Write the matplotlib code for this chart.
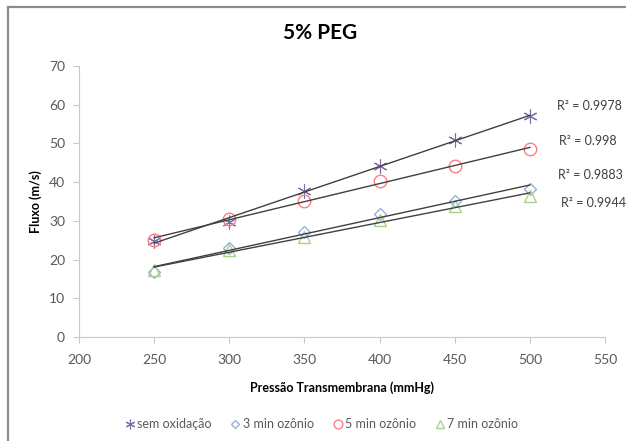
import numpy as np
import matplotlib.pyplot as plt
from matplotlib.lines import Line2D

plt.rcParams['font.family'] = ['Lato', 'DejaVu Sans']

# data
pressao = [250, 300, 350, 400, 450, 500]
sem_oxidacao = [24.8, 29.8, 37.8, 44.1, 50.9, 57.1]
min3 = [16.9, 23.0, 27.2, 31.8, 35.2, 38.2]
min5 = [25.1, 30.6, 35.1, 40.2, 44.2, 48.6]
min7 = [17.3, 22.4, 25.8, 30.2, 33.8, 36.4]

nomes = ['sem oxidação', '3 min ozônio', '5 min ozônio', '7 min ozônio']
r2 = ['0.9978', '0.998', '0.9883', '0.9944']
r2_y = [59.7, 50.6, 41.9, 34.6]
r2_x = [557, 559, 558, 561]

fig = plt.figure(figsize=(6.26, 4.41), dpi=100)
ax = fig.add_axes([0.1262, 0.2358, 0.8403, 0.6145])

# figure border (cut on right/bottom)
fig.add_artist(Line2D([8/626, 8/626], [0, 1 - 7/441], transform=fig.transFigure, color='#8c8c8c', lw=1.6))
fig.add_artist(Line2D([8/626, 1], [1 - 7/441, 1 - 7/441], transform=fig.transFigure, color='#8c8c8c', lw=1.6))

series = [sem_oxidacao, min3, min5, min7]
estilos = [
    dict(marker=(6, 2, 0), color='#7b6ea6', ms=10, mew=0.8),
    dict(marker='D', color='#8faadc', ms=6, mew=0.9, mfc='none'),
    dict(marker='o', color='#ff7c80', ms=9, mew=1.0, mfc='none'),
    dict(marker='^', color='#a9d18e', ms=8, mew=1.0, mfc='none'),
]

x = np.array(pressao)
handles = []
for vals, st, nome in zip(series, estilos, nomes):
    m, b = np.polyfit(x, vals, 1)
    ax.plot(x, m * x + b, color='#404040', lw=1.0, zorder=3)
    h, = ax.plot(x, vals, ls='none', zorder=2, label=nome, **st)
    handles.append(h)

for txt, yy, xx in zip(r2, r2_y, r2_x):
    ax.text((xx - 79) / 1.5029 + 200, yy, 'R² = ' + txt, fontsize=9, color='#404040', va='center')

ax.set_xlim(200, 550)
ax.set_ylim(0, 70)
ax.set_xticks(range(200, 551, 50))
ax.set_yticks(range(0, 71, 10))
for s in ['top', 'right']:
    ax.spines[s].set_visible(False)
for s in ['left', 'bottom']:
    ax.spines[s].set_color('#c8c8c8')
ax.tick_params(colors='#c8c8c8', labelcolor='#595959', labelsize=10, length=4, direction='out')
ax.tick_params(axis='x', pad=8)
ax.tick_params(axis='y', pad=6)

fig.text(320/626, 1 - 33/441, '5% PEG', fontsize=15, fontweight='bold', ha='center', va='center')
ax.set_xlabel('Pressão Transmembrana (mmHg)', fontsize=9, fontweight='bold')
ax.set_ylabel('Fluxo (m/s)', fontsize=9, fontweight='bold')
ax.xaxis.set_label_coords(342/626, 1 - 388/441, transform=fig.transFigure)
ax.yaxis.set_label_coords(36/626, 1 - 202/441, transform=fig.transFigure)
ax.xaxis.label.set_va('center')
ax.yaxis.label.set_va('center')

fig.legend(handles=handles, loc='center', bbox_to_anchor=(0.5136, 1 - 424/441), ncol=4, frameon=False,
           fontsize=9, labelcolor='#595959', handlelength=0.8, handletextpad=0.2, columnspacing=1.5,
           markerscale=0.7)

fig.savefig('out.png', dpi=100)
